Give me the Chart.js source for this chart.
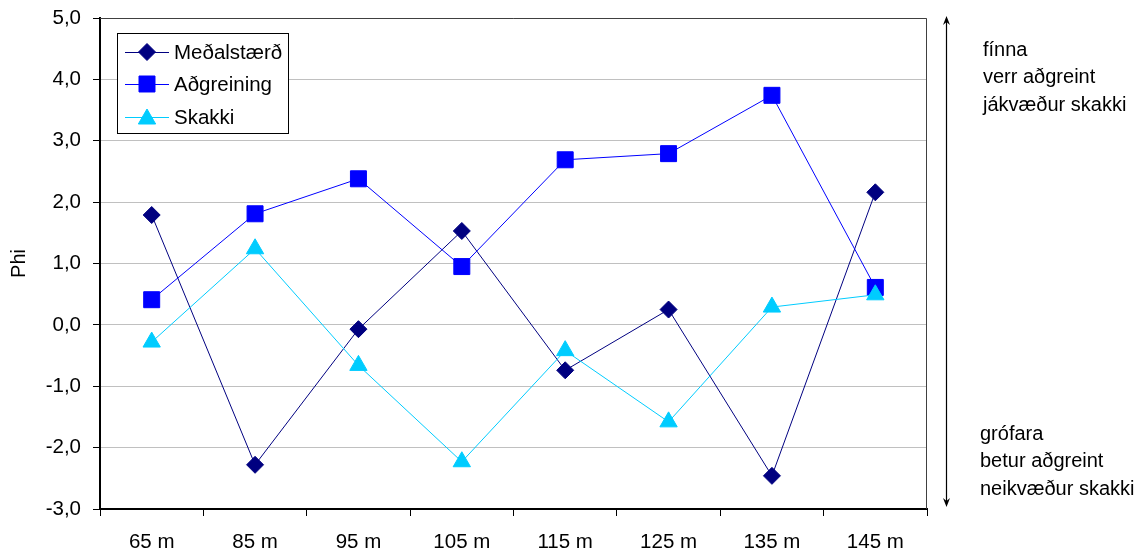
<!DOCTYPE html>
<html lang="is">
<head>
<meta charset="utf-8">
<title>Phi eftir möskvastærð</title>
<script src="https://cdn.jsdelivr.net/npm/chart.js"></script>
<style>
  html, body { margin: 0; padding: 0; background: #fff; }
  canvas { display: block; }
</style>
</head>
<body>
<canvas id="chart" width="1145" height="553"></canvas>
<script>
// Categories (mesh size) and Phi values per series
const categories = ['65 m', '85 m', '95 m', '105 m', '115 m', '125 m', '135 m', '145 m'];
const medalstaerd = [1.79, -2.28, -0.07, 1.53, -0.74, 0.25, -2.46, 2.16];
const adgreining  = [0.41, 1.81, 2.38, 0.95, 2.69, 2.79, 3.74, 0.61];
const skakki      = [-0.28, 1.24, -0.66, -2.23, -0.42, -1.58, 0.29, 0.49];
const seriesNames = ['Meðalstærð', 'Aðgreining', 'Skakki'];
const yTicks = { min: -3, max: 5, step: 1 };
const upperNote = ['fínna', 'verr aðgreint', 'jákvæður skakki'];
const lowerNote = ['grófara', 'betur aðgreint', 'neikvæður skakki'];

const FONT = 'Arial, "Liberation Sans", sans-serif';

function makeSet(label, data, color, style, radius, order) {
  return {
    label, data, order,
    borderColor: color, backgroundColor: color,
    borderWidth: 1,
    pointStyle: style, pointRadius: radius, pointHoverRadius: radius,
    pointBackgroundColor: color, pointBorderColor: color, pointBorderWidth: 1,
    tension: 0, fill: false
  };
}

// Frame (top/right), legend box and the side annotation arrow
const decorations = {
  id: 'decorations',
  afterDraw(chart) {
    const ctx = chart.ctx;
    const a = chart.chartArea;
    ctx.save();

    // top and right border of the plot
    ctx.strokeStyle = '#404040';
    ctx.lineWidth = 1;
    ctx.beginPath();
    ctx.moveTo(a.left, a.top + 0.5);
    ctx.lineTo(a.right - 0.5, a.top + 0.5);
    ctx.lineTo(a.right - 0.5, a.bottom);
    ctx.stroke();

    // legend
    const lx = 117.5, ly = 33.5, lw = 171, lh = 100;
    ctx.fillStyle = '#fff';
    ctx.fillRect(lx, ly, lw, lh);
    ctx.strokeStyle = '#000';
    ctx.lineWidth = 1;
    ctx.strokeRect(lx, ly, lw, lh);
    const rowsY = [52, 84, 117];
    ctx.font = '20.5px ' + FONT;
    ctx.textBaseline = 'middle';
    ctx.textAlign = 'left';
    chart.data.datasets.forEach((ds, i) => {
      const y = rowsY[i];
      ctx.strokeStyle = ds.borderColor;
      ctx.lineWidth = 1;
      ctx.beginPath();
      ctx.moveTo(125, y + 0.5);
      ctx.lineTo(169, y + 0.5);
      ctx.stroke();
      ctx.fillStyle = ds.pointBackgroundColor;
      ctx.strokeStyle = ds.pointBorderColor;
      Chart.helpers.drawPoint(ctx, {
        pointStyle: ds.pointStyle, radius: ds.pointRadius, rotation: 0, borderWidth: 1
      }, 147, ds.pointStyle === 'triangle' ? y + 2 : y);
      ctx.fillStyle = '#000';
      ctx.fillText(ds.label, 174, y + 1);
    });

    // double-headed arrow on the right
    const ax = 946.5, top = 16, bot = 507;
    ctx.strokeStyle = '#000';
    ctx.fillStyle = '#000';
    ctx.lineWidth = 1.2;
    ctx.beginPath();
    ctx.moveTo(ax, top + 5);
    ctx.lineTo(ax, bot - 5);
    ctx.stroke();
    ctx.beginPath();
    ctx.moveTo(ax, top); ctx.lineTo(ax - 3.5, top + 9); ctx.lineTo(ax, top + 6); ctx.lineTo(ax + 3.5, top + 9);
    ctx.closePath();
    ctx.fill();
    ctx.beginPath();
    ctx.moveTo(ax, bot); ctx.lineTo(ax - 3.5, bot - 9); ctx.lineTo(ax, bot - 6); ctx.lineTo(ax + 3.5, bot - 9);
    ctx.closePath();
    ctx.fill();

    // side notes
    ctx.font = '20px ' + FONT;
    ctx.textBaseline = 'middle';
    upperNote.forEach((t, i) => ctx.fillText(t, 983, 50 + i * 27.5));
    lowerNote.forEach((t, i) => ctx.fillText(t, 980, 434 + i * 27.5));
    ctx.restore();
  }
};

new Chart(document.getElementById('chart'), {
  type: 'line',
  data: {
    labels: categories,
    datasets: [
      makeSet(seriesNames[0], medalstaerd, '#000080', 'rectRot', 8.5, 3),
      makeSet(seriesNames[1], adgreining, '#0000ff', 'rect', 11.3, 2),
      makeSet(seriesNames[2], skakki, '#00ccff', 'triangle', 10, 1)
    ]
  },
  options: {
    responsive: false,
    animation: false,
    layout: { padding: { top: 18, right: 218, bottom: 0, left: 0 } },
    plugins: {
      legend: { display: false },
      tooltip: { enabled: false },
      title: { display: false }
    },
    scales: {
      x: {
        type: 'category',
        offset: true,
        grid: {
          offset: true, drawOnChartArea: false, drawTicks: true,
          tickLength: 7, tickColor: '#000', lineWidth: 1
        },
        border: { color: '#000', width: 2 },
        ticks: { color: '#000', font: { family: FONT, size: 20.5 }, padding: 14, maxRotation: 0, autoSkip: false },
        afterFit(scale) { scale.height = 44; scale.paddingLeft = 0; scale.paddingRight = 0; }
      },
      y: {
        min: yTicks.min, max: yTicks.max,
        grid: { color: '#c0c0c0', lineWidth: 1, tickLength: 7, tickColor: '#000' },
        border: { color: '#000', width: 2 },
        ticks: {
          stepSize: yTicks.step, color: '#000', padding: 12,
          font: { family: FONT, size: 20.5 },
          callback: v => v.toFixed(1).replace('.', ',')
        },
        title: { display: true, text: 'Phi', color: '#000', font: { family: FONT, size: 20 }, padding: { top: 7, bottom: 0 } },
        afterFit(scale) { scale.width = 100; scale.paddingTop = 0; scale.paddingBottom = 0; }
      }
    }
  },
  plugins: [decorations]
});
</script>
</body>
</html>
